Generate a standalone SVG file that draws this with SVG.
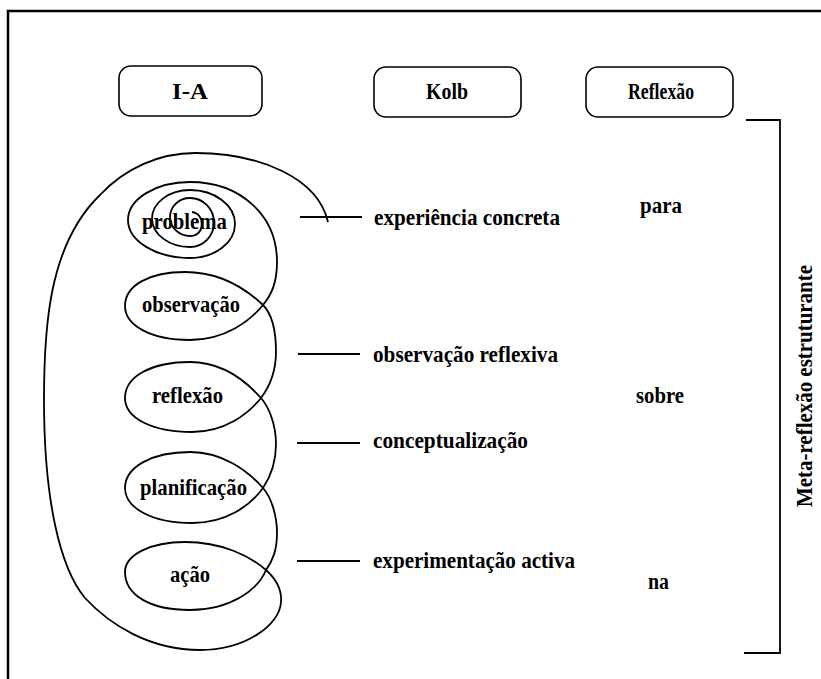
<svg xmlns="http://www.w3.org/2000/svg" width="821" height="679" viewBox="0 0 821 679">
<style>
.t{font-family:"Liberation Serif","Times New Roman",serif;font-weight:bold;font-size:24px;fill:#000}
.c{text-anchor:middle}
.ln{stroke:#000;stroke-width:1.8;fill:none}
.box{stroke:#000;stroke-width:1.6;fill:#fff}
.frame{stroke:#000;stroke-width:2.5;fill:none}
</style>
<rect x="0" y="0" width="821" height="679" fill="#fff"/>
<path class="frame" d="M8,679 V11 H821"/>
<g id="box-ia"><rect class="box" x="119" y="66" width="143" height="50" rx="12"/><text class="t c" x="190" y="99" textLength="36" lengthAdjust="spacingAndGlyphs">I-A</text></g>
<g id="box-kolb"><rect class="box" x="374" y="67" width="147" height="50" rx="12"/><text class="t c" x="447" y="99" textLength="42" lengthAdjust="spacingAndGlyphs">Kolb</text></g>
<g id="box-reflexao"><rect class="box" x="586" y="67" width="147" height="50" rx="12"/><text class="t c" x="661" y="99" textLength="66" lengthAdjust="spacingAndGlyphs">Reflexão</text></g>
<g id="connectors">
<path class="ln" d="M192,212 A11,12 0 0 1 190,236 A20,19 0 0 1 190,198 A24,24.5 0 0 1 190,247 A38,28.5 0 0 1 190,190 A45,34 0 0 1 190,258 A62,38 0 0 1 190,182
C240,182 277,215 277,262 C277,282 272,294 263,305
C250,321 225,340 190,340 C150,340 125,325 125,306 C125,285 150,272 185,272 C220,272 245,288 263,305
C272,314 276,330 276,352 C276,372 270,386 261,398
C248,414 225,432 192,432 C152,432 125,418 125,398 C125,376 152,362 190,362 C222,362 245,380 261,398
C269,407 276,425 276,444 C276,462 271,476 263,488
C250,506 226,523 192,523 C152,523 125,508 125,488 C125,467 152,452 190,452 C222,452 247,470 263,488
C271,497 277,515 277,533 C277,550 273,560 266,570
C258,590 230,610 190,610 C150,610 125,595 125,572 C125,555 150,542 185,542 C222,542 250,556 266,570
C276,579 282,590 281,602 C280,625 245,650 200,650 C150,650 110,625 85,598
C60,568 44,500 44,400 C44,330 48,245 100,195 C125,168 160,153 195,153 C260,153 318,178 328,222"/>
<path class="ln" d="M300,217 H362 M298,354 H360 M297,443 H360 M297,561 H360"/>
<path class="ln" d="M746,120 H780 V653 H744"/>
</g>
<g id="ia-labels">
<text class="t" x="142" y="229" textLength="85" lengthAdjust="spacingAndGlyphs">problema</text>
<text class="t" x="142" y="312" textLength="98" lengthAdjust="spacingAndGlyphs">observação</text>
<text class="t" x="152" y="403" textLength="71" lengthAdjust="spacingAndGlyphs">reflexão</text>
<text class="t" x="140" y="495" textLength="107" lengthAdjust="spacingAndGlyphs">planificação</text>
<text class="t" x="170" y="582" textLength="40" lengthAdjust="spacingAndGlyphs">ação</text>
</g>
<g id="kolb-labels">
<text class="t" x="374" y="225" textLength="186" lengthAdjust="spacingAndGlyphs">experiência concreta</text>
<text class="t" x="373" y="362" textLength="185" lengthAdjust="spacingAndGlyphs">observação reflexiva</text>
<text class="t" x="373" y="448" textLength="155" lengthAdjust="spacingAndGlyphs">conceptualização</text>
<text class="t" x="373" y="568" textLength="202" lengthAdjust="spacingAndGlyphs">experimentação activa</text>
</g>
<g id="reflexao-labels">
<text class="t" x="640" y="213" textLength="42" lengthAdjust="spacingAndGlyphs">para</text>
<text class="t" x="636" y="403" textLength="48" lengthAdjust="spacingAndGlyphs">sobre</text>
<text class="t" x="648" y="589" textLength="21" lengthAdjust="spacingAndGlyphs">na</text>
</g>
<g id="meta"><text class="t c" transform="translate(812,386) rotate(-90)" textLength="242" lengthAdjust="spacingAndGlyphs">Meta-reflexão estruturante</text></g>
</svg>
